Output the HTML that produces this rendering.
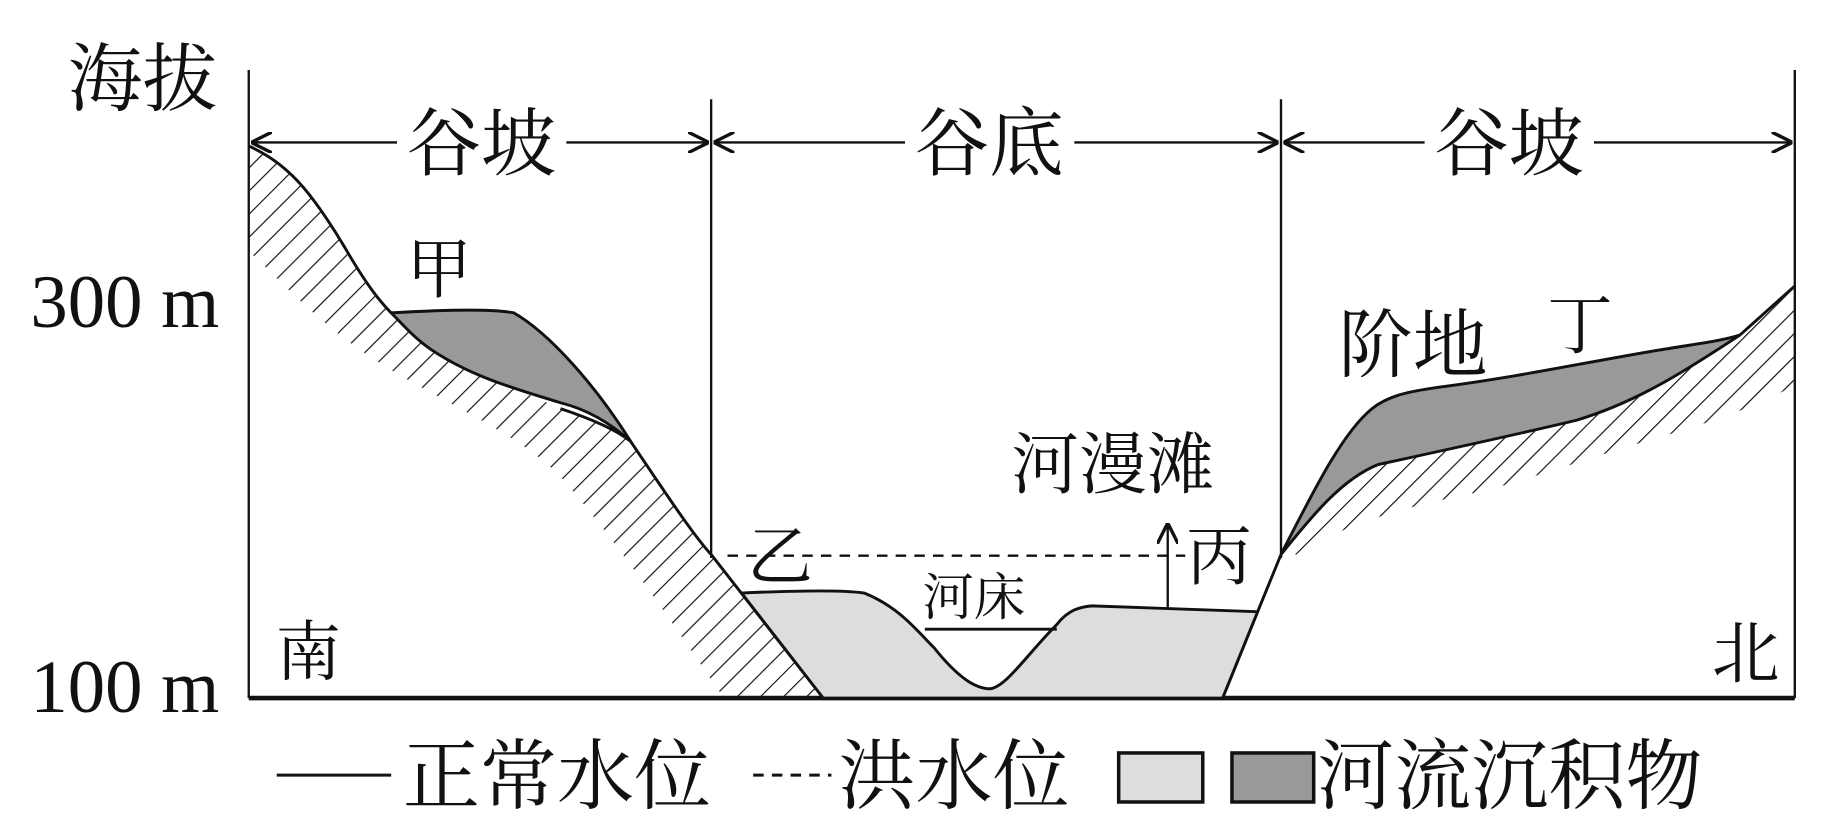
<!DOCTYPE html>
<html><head><meta charset="utf-8"><style>
html,body{margin:0;padding:0;background:#fff;}
svg{display:block;}
text{font-family:"Liberation Serif","Noto Serif CJK SC",serif;fill:#111;}
</style></head><body>
<svg width="1831" height="830" viewBox="0 0 1568 711" preserveAspectRatio="none" xmlns="http://www.w3.org/2000/svg">
<defs>
<pattern id="h" width="14" height="14" patternUnits="userSpaceOnUse" patternTransform="rotate(45)">
<line x1="0" y1="0" x2="0" y2="14" stroke="#111" stroke-width="2"/>
</pattern>
<clipPath id="c"><rect x="213" y="0" width="1324" height="598"/></clipPath>
<marker id="a" viewBox="0 0 10 10" refX="10" refY="5" markerWidth="9" markerHeight="9" orient="auto-start-reverse"><path d="M0,0 L10,5 L0,10" fill="none" stroke="#111" stroke-width="1.6"/></marker>
</defs>
<g stroke="#111" fill="none" stroke-width="2">
<line x1="213" y1="60" x2="213" y2="598"/>
<line x1="609" y1="85" x2="609" y2="478"/>
<line x1="1097" y1="85" x2="1097" y2="478"/>
<line x1="1537" y1="60" x2="1537" y2="598"/>
</g>
<line x1="213" y1="598" x2="1537" y2="598" stroke="#111" stroke-width="4"/>
<g stroke="#111" stroke-width="2" marker-start="url(#a)" marker-end="url(#a)">
<line x1="215" y1="122" x2="607" y2="122"/>
<line x1="611" y1="122" x2="1095" y2="122"/>
<line x1="1099" y1="122" x2="1535" y2="122"/>
</g>
<g font-size="64" text-anchor="middle">
<rect x="340" y="90" width="145" height="65" fill="#fff"/><text x="412" y="145">谷坡</text>
<rect x="775" y="90" width="145" height="65" fill="#fff"/><text x="847" y="145">谷底</text>
<rect x="1220" y="90" width="145" height="65" fill="#fff"/><text x="1292" y="145">谷坡</text>
</g>
<g clip-path="url(#c)">
<path d="M213,125 C245,140 265,160 300,220 C315,245 325,258 335,268 C370,300 400,315 480,350 C510,360 530,370 540,378 C575,430 595,460 609,475 L705,598 L620,598 C580,540 540,480 490,420 C460,380 400,355 340,320 C280,285 250,250 213,215 Z" fill="url(#h)" stroke="none"/>
<path d="M1097,475 C1130,430 1150,405 1175,398 C1220,380 1300,370 1350,358 C1400,340 1440,320 1490,287 L1537,245 L1537,330 C1500,350 1470,360 1420,375 C1350,395 1300,415 1250,425 C1200,435 1150,450 1110,475 Z" fill="url(#h)" stroke="none"/>
</g>
<path d="M335,268 C370,266 420,264 440,268 C470,285 510,330 540,378 C520,360 500,350 480,345 C430,330 400,320 370,300 C355,290 345,278 335,268 Z" fill="#999" stroke="#111" stroke-width="2.5"/>
<path d="M1097,475 C1125,420 1150,370 1175,350 C1190,338 1210,335 1230,332 C1300,323 1360,310 1420,300 C1450,295 1475,292 1490,287 C1440,320 1400,345 1350,360 C1300,372 1240,385 1180,398 C1150,410 1125,440 1097,475 Z" fill="#999" stroke="#111" stroke-width="2.5"/>
<path d="M213,125 C245,140 265,160 300,220 C315,245 325,258 335,268 M480,350 C510,360 530,370 540,378 C575,430 595,460 609,475 L705,598 M1047,598 L1077,524 L1097,475 M1490,287 L1537,245" fill="none" stroke="#111" stroke-width="2.5"/>
<path d="M635,508 C680,506 720,505 740,508 C770,520 785,540 800,555 C820,580 835,590 848,590 C862,588 880,560 905,535 C915,522 925,520 935,519 L1077,524 L1047,598 L705,598 Z" fill="#ddd" stroke="#111" stroke-width="2.5"/>
<line x1="792" y1="539" x2="905" y2="539" stroke="#111" stroke-width="2.5"/>
<line x1="623" y1="476" x2="1015" y2="476" stroke="#111" stroke-width="2" stroke-dasharray="9,7"/>
<line x1="1000" y1="522" x2="1000" y2="448" stroke="#111" stroke-width="2" marker-end="url(#a)"/>
<text x="58" y="90" font-size="64">海拔</text>
<text x="26" y="280" font-size="64">300 m</text>
<text x="26" y="610" font-size="64">100 m</text>
<text x="236" y="578" font-size="56">南</text>
<text x="1466" y="580" font-size="58">北</text>
<text x="348" y="250" font-size="56">甲</text>
<text x="1146" y="318" font-size="64">阶地</text>
<text x="1325" y="298" font-size="56">丁</text>
<text x="866" y="418" font-size="58">河漫滩</text>
<text x="640" y="496" font-size="56">乙</text>
<text x="1016" y="496" font-size="56">丙</text>
<text x="790" y="527" font-size="44">河床</text>
<line x1="237" y1="664" x2="335" y2="664" stroke="#111" stroke-width="2.5"/>
<line x1="645" y1="664" x2="712" y2="664" stroke="#111" stroke-width="2.5" stroke-dasharray="9,7"/>
<rect x="958" y="645" width="72" height="42" fill="#ddd" stroke="#111" stroke-width="3"/>
<rect x="1055" y="645" width="70" height="42" fill="#999" stroke="#111" stroke-width="3"/>
<g font-size="66">
<text x="345" y="688">正常水位</text>
<text x="718" y="688">洪水位</text>
<text x="1128" y="688">河流沉积物</text>
</g>
</svg>
</body></html>
